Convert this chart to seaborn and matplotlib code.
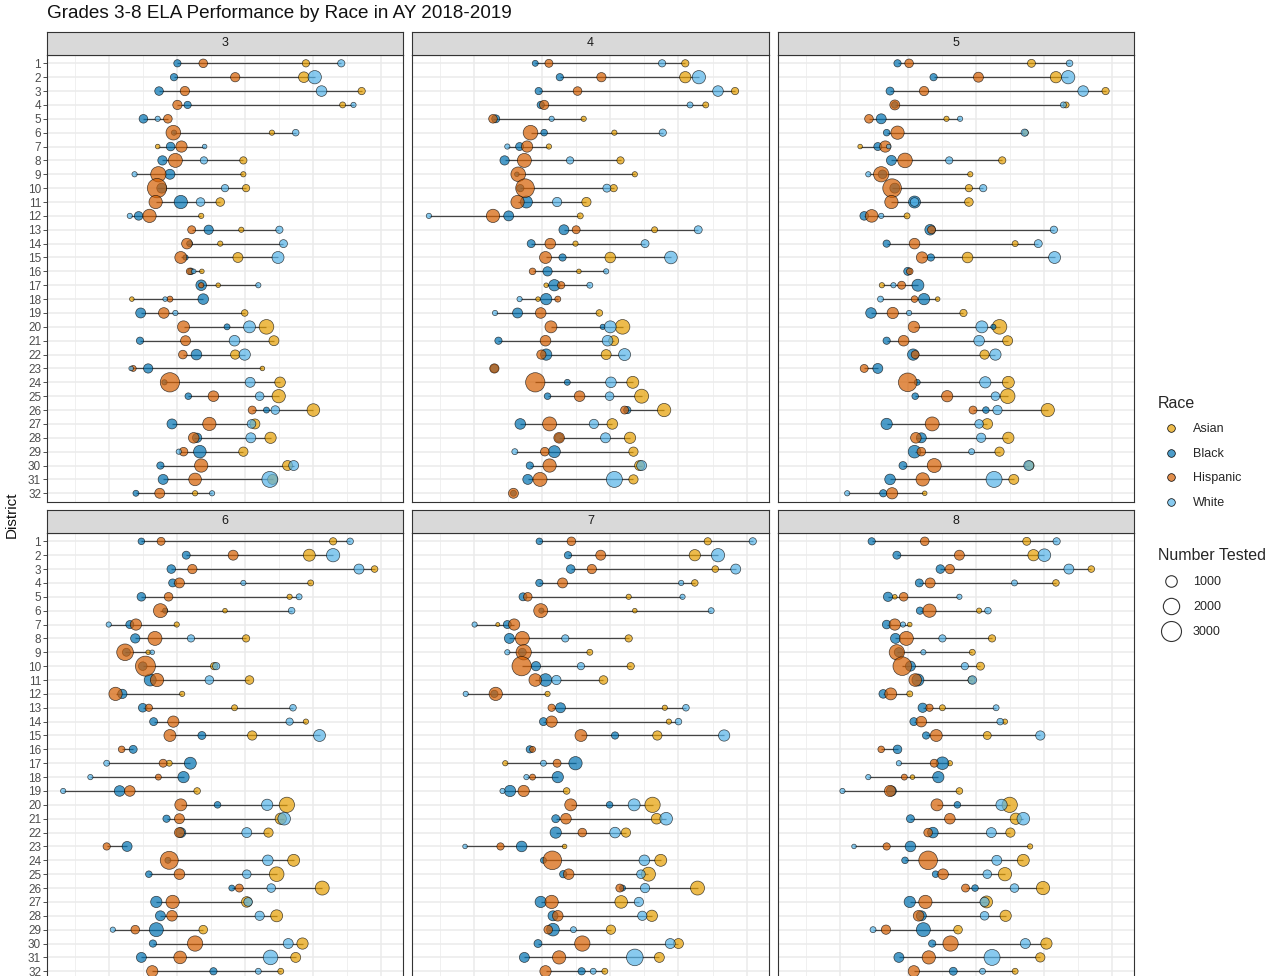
import numpy as np
import pandas as pd
import matplotlib.pyplot as plt
import seaborn as sns
from matplotlib.lines import Line2D
from matplotlib.colors import to_rgba

GRADES = [3, 4, 5, 6, 7, 8]
DISTRICTS = list(range(1, 33))
RACES = ['Asian', 'Black', 'Hispanic', 'White']
N_LEGEND = [1000, 2000, 3000]

# mean scale score by grade, one list of 32 districts per grade (None = not reported)
ASIAN = {
    3: [619.0, 618.7, 627.2, 624.4, None, 614.0, 597.2, 609.8, 609.8, 610.2, 606.4, 603.6, 609.5, 606.4, 609.0, 603.7,
        606.1, 593.4, 610.0, 613.2, 614.3, 608.6, 612.6, 615.2, 615.0, 620.1, 611.5, 613.8, 609.8, 616.3, 614.1, 602.7],
    4: [621.0, 621.0, 628.3, 624.0, 606.1, 610.6, 601.0, 611.5, 613.6, 610.5, 606.5, 605.6, 616.5, 604.9, 610.0, 605.4,
        600.6, 599.4, 608.4, 611.8, 610.5, 609.4, None, 613.3, 614.6, 617.9, 610.3, 612.9, 613.4, 614.3, 613.4, None],
    5: [618.2, 621.8, 629.1, 623.3, 605.7, 617.3, 593.0, 613.9, 609.2, 609.0, 609.0, 599.9, None, 615.8, 608.8, None,
        596.2, 604.4, 608.2, 613.5, 614.7, 611.3, None, 614.8, 614.7, 620.6, 611.7, 614.8, 613.5, 617.9, 615.6, 602.5],
    6: [623.0, 619.5, 629.1, 619.7, 616.6, 607.1, 600.0, 610.2, 595.8, 605.5, 610.7, 600.8, 608.5, 619.0, 611.1, None,
        598.9, None, 603.0, 616.2, 615.3, 613.5, None, 617.2, 614.7, 621.4, 610.3, 614.7, 603.9, 618.5, 617.5, 615.3],
    7: [624.3, 622.4, 625.4, 622.4, 612.7, 613.6, 593.5, 612.7, 607.0, 613.0, 609.0, 600.8, 618.0, 618.6, 616.9, None,
        594.6, None, 603.6, 616.2, 616.8, 612.3, 603.3, 617.4, 615.6, 622.8, 611.6, 616.1, 610.1, 620.0, 617.2, 609.2],
    8: [617.5, 618.5, 627.0, 621.8, 598.1, 610.5, 600.3, 612.4, 609.5, 610.7, 609.4, 600.3, 605.1, 614.3, 611.7, None,
        606.2, 600.7, 607.6, 615.0, 615.9, 615.1, 618.0, 617.0, 614.3, 619.9, 611.6, 614.4, 607.4, 620.4, 619.5, 615.8],
}
ASIAN_N = {
    3: [400, 850, 400, 270, None, 210, 160, 400, 210, 400, 560, 210, 210, 210, 750, 160,
        160, 160, 330, 1610, 750, 650, 160, 850, 1330, 1200, 750, 960, 650, 750, 750, 210],
    4: [400, 960, 400, 270, 210, 210, 210, 400, 210, 400, 650, 270, 270, 210, 850, 160,
        160, 160, 330, 1610, 750, 750, None, 1080, 1470, 1330, 850, 960, 650, 750, 650, None],
    5: [480, 960, 400, 270, 210, 270, 160, 400, 210, 400, 560, 270, None, 270, 850, None,
        210, 160, 400, 1610, 750, 650, None, 1080, 1610, 1330, 850, 960, 650, 650, 750, 160],
    6: [400, 1080, 330, 270, 210, 160, 210, 400, 160, 400, 560, 210, 270, 210, 650, None,
        270, None, 330, 1760, 960, 650, None, 1080, 1610, 1470, 850, 1080, 560, 960, 750, 270],
    7: [400, 960, 330, 330, 210, 160, 120, 400, 270, 400, 560, 210, 210, 210, 650, None,
        210, None, 330, 1760, 850, 650, 160, 1080, 1470, 1470, 1200, 960, 650, 750, 750, 270],
    8: [480, 960, 330, 330, 160, 210, 160, 400, 270, 480, 400, 270, 270, 210, 480, None,
        210, 160, 330, 1760, 960, 650, 210, 1080, 1330, 1330, 1080, 960, 560, 960, 650, 270],
}

BLACK = {
    3: [600.1, 599.6, 597.4, 601.6, 595.1, 599.6, 599.1, 597.9, 599.0, 597.8, 600.6, 594.4, 604.7, 601.9, 601.3, 602.1,
        603.6, 603.9, 594.7, 607.4, 594.6, 602.9, 595.8, 598.2, 601.7, 613.2, 599.3, 603.0, 603.4, 597.6, 598.0, 594.0],
    4: [599.0, 602.6, 599.5, 599.8, 593.2, 600.3, 596.7, 594.5, 596.3, 596.8, 597.7, 595.1, 603.2, 598.4, 603.0, 600.8,
        601.8, 600.6, 596.4, 608.9, 593.6, 600.6, 593.0, 603.7, 600.8, 612.5, 596.8, 602.5, 601.8, 598.2, 597.9, 595.8],
    5: [598.5, 603.8, 597.4, 598.1, 596.1, 596.9, 595.6, 597.6, 596.3, 598.1, 601.0, 593.6, 603.3, 596.9, 603.4, 600.0,
        601.5, 602.4, 594.6, 612.6, 596.9, 600.8, 595.6, 601.4, 601.1, 611.5, 596.9, 602.0, 601.0, 599.3, 597.4, 596.4],
    6: [594.8, 601.4, 599.2, 599.4, 594.8, 598.3, 593.1, 593.9, 592.6, 595.0, 596.1, 592.0, 595.0, 596.6, 603.7, 593.6,
        602.0, 601.0, 591.6, 606.0, 598.5, 600.6, 592.7, 598.7, 595.9, 608.1, 597.0, 597.6, 597.0, 596.5, 594.8, 605.4],
    7: [599.6, 603.8, 604.2, 599.6, 597.2, 599.9, 594.9, 595.2, 597.1, 599.1, 600.5, 593.0, 602.7, 600.2, 610.7, 598.2,
        604.9, 602.3, 595.3, 609.9, 602.0, 602.0, 597.0, 600.2, 603.1, 611.8, 599.8, 601.6, 601.6, 599.4, 597.4, 605.8],
    8: [594.7, 598.4, 604.8, 601.7, 597.1, 601.8, 596.9, 598.2, 598.7, 600.4, 601.5, 596.4, 602.2, 600.9, 602.7, 598.5,
        605.1, 604.5, 597.6, 607.3, 600.4, 603.7, 600.4, 599.6, 604.1, 609.9, 600.3, 602.0, 602.3, 603.6, 598.7, 606.7],
}
BLACK_N = {
    3: [400, 400, 560, 400, 560, 210, 560, 650, 750, 750, 1330, 560, 650, 270, 210, 330,
        850, 850, 750, 270, 400, 850, 650, 210, 330, 270, 750, 650, 1200, 400, 750, 270],
    4: [270, 400, 400, 400, 480, 330, 480, 650, 160, 400, 1080, 750, 750, 480, 400, 650,
        960, 960, 750, 210, 400, 960, 480, 270, 330, 400, 850, 560, 1080, 400, 750, 270],
    5: [400, 400, 480, 330, 750, 330, 480, 750, 560, 750, 1080, 560, 850, 400, 400, 480,
        1080, 960, 850, 210, 400, 960, 750, 270, 330, 330, 960, 750, 1200, 480, 850, 400],
    6: [330, 480, 560, 480, 560, 210, 480, 650, 480, 560, 1080, 650, 560, 480, 480, 480,
        1080, 960, 850, 330, 400, 750, 750, 270, 330, 270, 960, 750, 1470, 400, 750, 400],
    7: [330, 400, 560, 400, 480, 210, 480, 750, 480, 650, 1200, 400, 750, 480, 400, 400,
        1330, 960, 960, 330, 480, 960, 850, 270, 400, 270, 960, 750, 1200, 480, 750, 400],
    8: [400, 480, 560, 480, 650, 400, 560, 750, 650, 750, 1080, 560, 650, 480, 400, 560,
        1200, 960, 750, 330, 480, 850, 850, 330, 330, 330, 960, 750, 1470, 400, 750, 480],
}

HISPANIC = {
    3: [603.9, 608.6, 601.2, 600.1, 598.7, 599.5, 600.7, 599.8, 597.3, 597.1, 596.9, 596.0, 602.2, 601.5, 600.6, 601.9,
        603.6, 599.0, 598.1, 601.0, 601.3, 600.9, 593.6, 599.0, 605.4, 611.1, 604.8, 602.5, 601.0, 603.6, 602.7, 597.5],
    4: [601.0, 608.7, 605.2, 600.3, 592.8, 598.3, 597.8, 597.4, 596.5, 597.5, 596.4, 592.8, 605.0, 601.2, 600.5, 598.6,
        602.8, 602.3, 599.8, 601.3, 600.5, 599.9, 593.0, 599.0, 605.5, 612.1, 601.1, 602.5, 600.4, 601.1, 599.7, 595.8],
    5: [600.2, 610.4, 602.4, 598.1, 594.3, 598.5, 596.7, 599.6, 596.1, 597.7, 597.6, 594.7, 603.5, 601.0, 602.1, 600.3,
        599.1, 601.0, 597.8, 600.9, 599.4, 601.1, 593.6, 600.0, 605.8, 609.6, 603.6, 601.2, 602.0, 603.9, 602.2, 597.7],
    6: [597.7, 608.3, 602.3, 600.4, 598.8, 597.6, 594.0, 596.8, 592.4, 595.4, 597.1, 591.0, 595.9, 599.5, 599.0, 591.9,
        598.0, 597.3, 593.1, 600.6, 600.4, 600.4, 589.7, 598.9, 600.4, 609.2, 599.4, 599.3, 593.9, 602.7, 600.5, 596.4],
    7: [604.3, 608.6, 607.3, 603.0, 597.9, 599.8, 595.9, 597.1, 597.3, 597.0, 599.0, 593.2, 601.4, 601.4, 605.7, 598.6,
        602.2, 598.6, 597.3, 604.2, 603.5, 605.9, 593.9, 601.5, 603.9, 611.4, 601.4, 602.3, 600.9, 605.9, 602.5, 600.5],
    8: [602.5, 607.6, 606.2, 603.3, 599.4, 603.2, 598.1, 599.8, 598.4, 599.2, 601.1, 597.5, 603.2, 602.0, 604.2, 596.1,
        603.9, 599.5, 597.4, 604.3, 606.2, 603.0, 596.9, 603.0, 605.2, 608.5, 602.6, 601.6, 596.8, 606.3, 603.1, 600.9],
}
HISPANIC_N = {
    3: [560, 650, 650, 650, 560, 1610, 960, 1470, 1760, 2800, 1330, 1330, 480, 850, 1080, 330,
        210, 270, 850, 1080, 750, 560, 270, 2800, 850, 480, 1330, 850, 560, 1330, 1200, 750],
    4: [480, 650, 560, 650, 560, 1610, 960, 1470, 1610, 2610, 1330, 1330, 480, 850, 1080, 330,
        400, 270, 850, 1080, 850, 650, 650, 2800, 850, 480, 1470, 850, 560, 1330, 1470, 750],
    5: [560, 750, 650, 750, 560, 1330, 960, 1610, 1760, 2610, 1330, 1200, 480, 850, 960, 330,
        480, 330, 960, 960, 850, 480, 480, 2610, 960, 480, 1470, 850, 560, 1470, 1330, 960],
    6: [480, 750, 650, 750, 560, 1470, 960, 1470, 2080, 3000, 1330, 1330, 400, 960, 1080, 330,
        480, 270, 850, 1080, 750, 750, 400, 2430, 850, 480, 1330, 850, 560, 1760, 1200, 960],
    7: [560, 750, 650, 750, 560, 1470, 960, 1470, 1760, 2800, 1200, 1330, 400, 960, 1080, 270,
        480, 270, 960, 1080, 850, 560, 400, 2610, 850, 480, 1330, 850, 560, 1760, 1330, 960],
    8: [560, 750, 650, 750, 560, 1330, 960, 1470, 1760, 2610, 1200, 1080, 400, 850, 1080, 330,
        480, 270, 960, 1080, 850, 560, 400, 2610, 850, 480, 1330, 850, 650, 1760, 1330, 960],
}

WHITE = {
    3: [624.2, 620.3, 621.3, 626.0, 597.2, 617.5, 604.1, 604.0, 593.8, 607.1, 603.5, 593.1, 615.1, 615.7, 614.9, 602.5,
        612.0, 598.3, 599.8, 610.7, 608.5, 610.0, 593.3, 610.8, 612.2, 614.5, 611.0, 610.9, 600.3, 617.2, 613.7, 605.2],
    4: [617.6, 623.0, 625.8, 621.7, 601.4, 617.7, 594.9, 604.1, None, 609.5, 602.2, 583.4, 622.9, 615.1, 618.9, 609.4,
        607.0, 596.7, 593.1, 610.0, 609.6, 612.1, None, 610.1, 609.9, None, 607.6, 609.3, 596.0, 614.6, 610.6, None],
    5: [623.8, 623.6, 625.8, 622.9, 607.7, 617.2, 597.2, 606.1, 594.2, 611.1, 601.0, 596.1, 621.5, 619.2, 621.6, None,
        597.9, 596.0, 600.2, 610.9, 610.5, 612.9, None, 611.4, 612.9, 613.2, 610.5, 610.8, 609.4, 617.8, 612.7, 591.1],
    6: [625.5, 623.0, 626.8, 609.8, 618.0, 616.9, 590.0, 602.1, 596.4, 605.8, 604.8, None, 617.1, 616.6, 621.0, None,
        589.7, 587.3, 583.3, 613.3, 615.8, 610.3, None, 613.4, 610.3, 613.9, 610.5, 612.2, 590.6, 616.4, 613.8, 612.0],
    7: [630.9, 625.8, 628.4, 620.4, 620.6, 624.8, 590.1, 603.4, 594.9, 605.7, 602.1, 588.8, 621.1, 620.0, 626.7, None,
        600.2, 597.7, 594.2, 613.5, 618.2, 610.7, 588.7, 615.0, 614.5, 615.1, 614.2, 614.7, 604.6, 618.8, 613.6, 607.5],
    8: [621.9, 620.1, 623.7, 615.7, 607.6, 611.8, 599.3, 605.1, 602.3, 608.4, 609.5, None, 613.0, 613.6, 619.5, None,
        598.7, 594.2, 590.4, 613.8, 617.0, 612.3, 592.1, 613.1, 611.7, 615.7, 611.3, 611.3, 594.9, 617.3, 612.4, 611.0],
}
WHITE_N = {
    3: [400, 1330, 850, 210, 210, 330, 160, 400, 210, 400, 560, 210, 400, 480, 1080, 160,
        210, 160, 210, 1080, 850, 960, 160, 750, 560, 560, 560, 750, 210, 750, 1920, 210],
    4: [400, 1330, 850, 270, 210, 400, 210, 400, None, 480, 650, 210, 480, 480, 1200, 210,
        270, 210, 210, 1080, 850, 1080, None, 850, 560, None, 650, 750, 270, 750, 1920, None],
    5: [330, 1330, 850, 270, 210, 400, 160, 400, 210, 400, 560, 210, 400, 480, 1080, None,
        210, 270, 210, 1080, 850, 960, None, 960, 560, 650, 560, 650, 270, 750, 1920, 210],
    6: [330, 1330, 750, 210, 270, 330, 210, 400, 160, 400, 560, None, 330, 400, 1080, None,
        270, 210, 210, 960, 1200, 750, None, 850, 560, 560, 560, 650, 210, 750, 1610, 270],
    7: [400, 1330, 750, 210, 210, 270, 210, 400, 210, 400, 650, 210, 330, 330, 960, None,
        270, 210, 210, 1080, 1200, 850, 160, 850, 560, 650, 650, 650, 270, 750, 2080, 270],
    8: [400, 1200, 750, 270, 210, 330, 210, 400, 210, 400, 560, None, 270, 330, 650, None,
        210, 210, 210, 960, 1200, 750, 160, 750, 560, 560, 650, 560, 270, 750, 1920, 270],
}

PALETTE = {'Asian': '#E69F00', 'Black': '#0072B2', 'Hispanic': '#D55E00', 'White': '#56B4E9'}

# long table, race-major so later races are drawn on top (Asian, Black, Hispanic, White)
frames = []
for race, scores, counts in [('Asian', ASIAN, ASIAN_N), ('Black', BLACK, BLACK_N),
                             ('Hispanic', HISPANIC, HISPANIC_N), ('White', WHITE, WHITE_N)]:
    for g in GRADES:
        frames.append(pd.DataFrame({'grade': g, 'district': DISTRICTS, 'race': race,
                                    'score': pd.to_numeric(pd.Series(scores[g], dtype=object)),
                                    'n': pd.to_numeric(pd.Series(counts[g], dtype=object))}))
df = pd.concat(frames, ignore_index=True).dropna(subset=['score'])

sns.set_theme(style='white')
plt.rcParams['font.family'] = ['Liberation Sans', 'DejaVu Sans']

W, H = 1281, 976
fig = plt.figure(figsize=(W / 100, H / 100), dpi=100)


def px_box(x0, y0, x1, y1):
    return [x0 / W, 1 - y1 / H, (x1 - x0) / W, (y1 - y0) / H]


COLS = [(47, 403), (412, 769), (778, 1134)]
ROWS = [(32, 55, 501.6), (510, 533, 979.6)]
S_MAX = 207  # marker area in pt^2 for 3000 tested
ALPHA = 0.7

lo, hi = df['score'].min(), df['score'].max()
pad = 0.05 * (hi - lo)

for i, g in enumerate(GRADES):
    r, c = divmod(i, 3)
    x0, x1 = COLS[c]
    ys, yt, yb = ROWS[r]
    ax = fig.add_axes(px_box(x0, yt, x1, yb))
    strip = fig.add_axes(px_box(x0, ys, x1, yt))

    sub = df[df['grade'] == g]
    rng = sub.groupby('district')['score'].agg(['min', 'max'])
    ax.hlines(rng.index, rng['min'], rng['max'], color='#444444', lw=0.9, zorder=2)
    sns.scatterplot(data=sub, x='score', y='district', hue='race', size='n',
                    hue_order=RACES, palette=PALETTE, sizes=(0, S_MAX), size_norm=(0, 3000),
                    alpha=ALPHA, edgecolor='black', linewidth=0.5, legend=False, ax=ax, zorder=3)

    ax.set_xlim(lo - pad, hi + pad)
    ax.set_ylim(32.6, 0.4)
    ax.set_yticks(DISTRICTS)
    ax.set_xticks(range(590, 631, 10))
    ax.set_xticks(range(585, 631, 10), minor=True)
    ax.grid(True, which='major', color='#EBEBEB', lw=1.1)
    ax.grid(True, which='minor', axis='x', color='#F0F0F0', lw=0.7)
    ax.set_axisbelow(True)
    ax.set_xlabel('')
    ax.set_ylabel('')
    ax.tick_params(axis='x', which='both', length=0, labelbottom=False)
    if c == 0:
        ax.tick_params(axis='y', length=2.75, width=0.6, color='#333333', pad=1.5,
                       labelsize=8.5, labelcolor='#4D4D4D', left=True)
    else:
        ax.tick_params(axis='y', length=0, labelleft=False)
    for sp in ax.spines.values():
        sp.set_color('#333333')
        sp.set_linewidth(0.8)

    strip.set_facecolor('#D9D9D9')
    strip.set_xticks([])
    strip.set_yticks([])
    for sp in strip.spines.values():
        sp.set_color('#333333')
        sp.set_linewidth(0.8)
    strip.text(0.5, 0.5, str(g), ha='center', va='center', fontsize=9, color='#1A1A1A',
               transform=strip.transAxes)

fig.text(47 / W, 1 - 14 / H, 'Grades 3-8 ELA Performance by Race in AY 2018-2019',
         ha='left', va='center', fontsize=13.6, color='#111111')
fig.text(12 / W, 1 - 515 / H, 'District', rotation=90, ha='center', va='center',
         fontsize=11, color='#111111')

race_handles = [Line2D([0], [0], marker='o', linestyle='', markersize=5.5,
                       markerfacecolor=to_rgba(PALETTE[r], ALPHA), markeredgecolor='black',
                       markeredgewidth=0.5) for r in RACES]
size_handles = [Line2D([0], [0], marker='o', linestyle='', markersize=np.sqrt(S_MAX * n / 3000),
                       markerfacecolor='none', markeredgecolor='#333333', markeredgewidth=0.8)
                for n in N_LEGEND]

fig.legend(race_handles, RACES, title='Race', loc='upper left',
           bbox_to_anchor=(1153 / W, 1 - 391 / H), frameon=False, alignment='left',
           fontsize=9, title_fontsize=11.5, labelspacing=1.0, handletextpad=0.8, borderaxespad=0)
fig.legend(size_handles, [str(n) for n in N_LEGEND], title='Number Tested', loc='upper left',
           bbox_to_anchor=(1153 / W, 1 - 543 / H), frameon=False, alignment='left',
           fontsize=9, title_fontsize=11.5, labelspacing=1.05, handletextpad=0.8, borderaxespad=0)

fig.savefig('out.png', dpi=100)
